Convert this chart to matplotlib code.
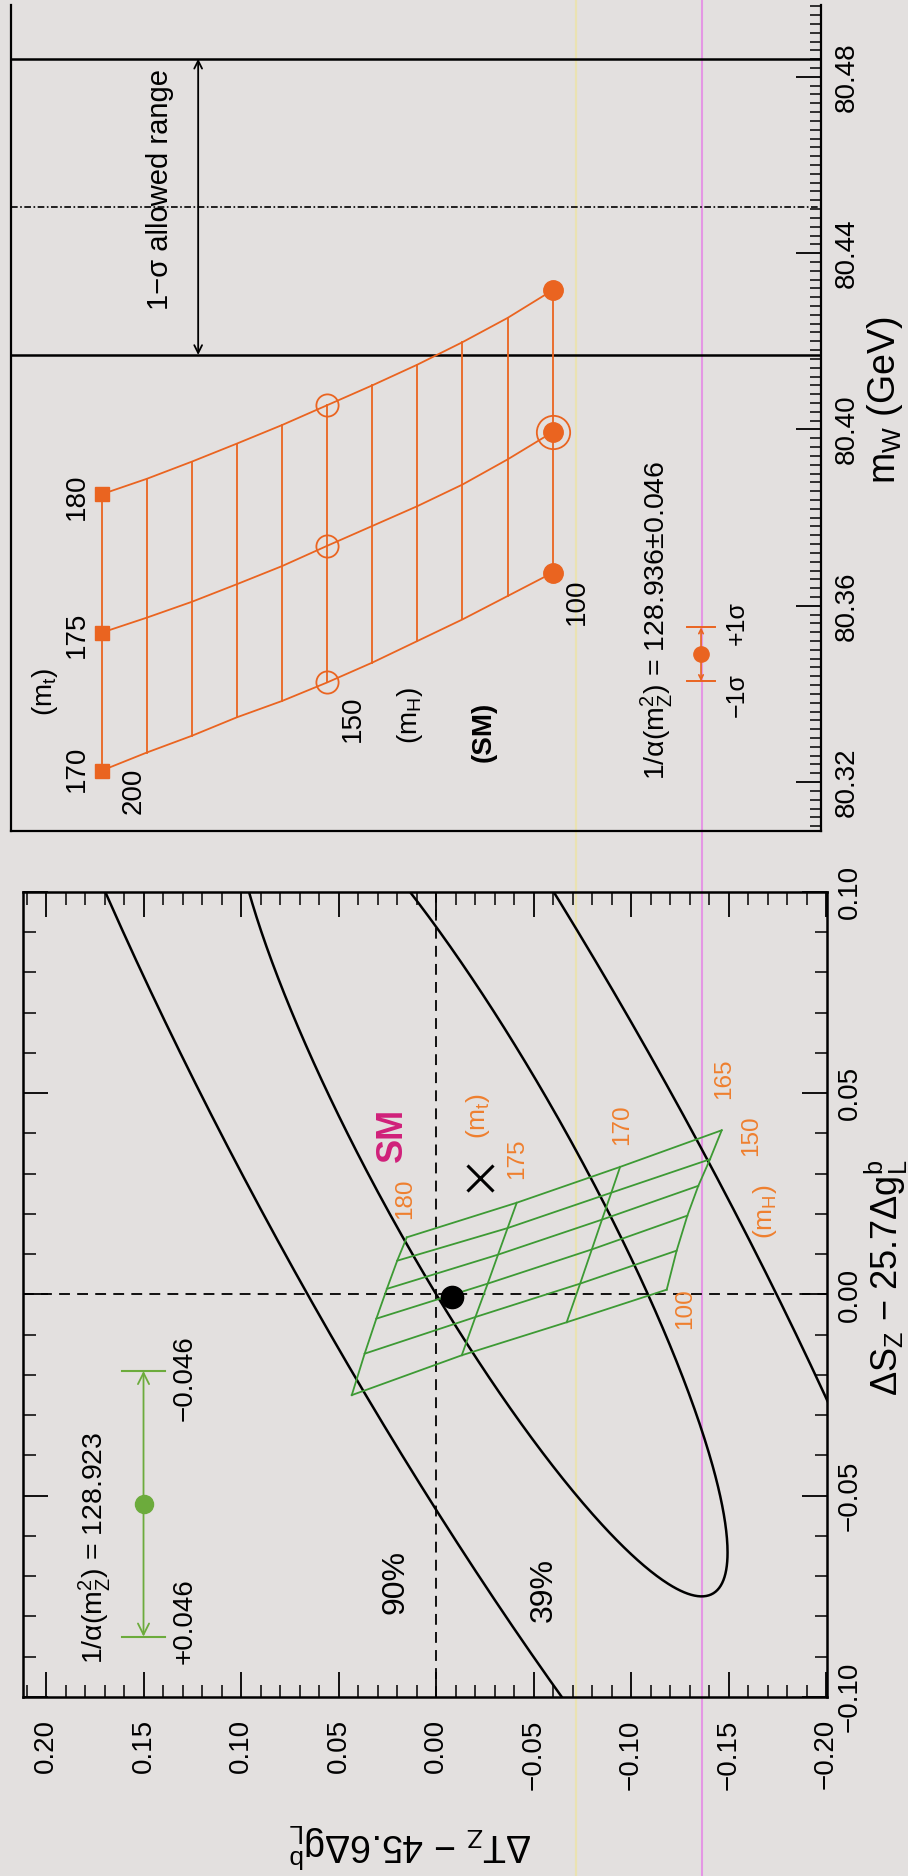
import numpy as np
import matplotlib
matplotlib.use("Agg")
import matplotlib.pyplot as plt
from matplotlib.lines import Line2D
from matplotlib.ticker import MultipleLocator, FuncFormatter

plt.rcParams['font.family'] = ['Liberation Sans', 'DejaVu Sans']
plt.rcParams['mathtext.fontset'] = 'custom'
plt.rcParams['mathtext.rm'] = 'Liberation Sans'
plt.rcParams['mathtext.it'] = 'Liberation Sans'
plt.rcParams['mathtext.bf'] = 'Liberation Sans:bold'
plt.rcParams['mathtext.default'] = 'regular'

# ---------------- upper panel: SM prediction of m_W ----------------
mH_grid = [200, 190, 180, 170, 160, 150, 140, 130, 120, 110, 100]
mt_values = [170, 175, 180]
mW_mt170 = [80.3226, 80.3267, 80.3305, 80.3347, 80.3384, 80.3426,
            80.3471, 80.3520, 80.3569, 80.3622, 80.3675]
mW_mt175 = [80.3539, 80.3573, 80.3609, 80.3649, 80.3690, 80.3736,
            80.3781, 80.3826, 80.3875, 80.3932, 80.3994]
mW_mt180 = [80.3853, 80.3888, 80.3927, 80.3968, 80.4010, 80.4055,
            80.4100, 80.4147, 80.4198, 80.4253, 80.4316]
mW_exp = 80.4505
mW_exp_err = 0.0336
mW_alpha_center = 80.3490
mW_alpha_err = 0.0061
mW_ticks = [80.32, 80.36, 80.40, 80.44, 80.48]

# ---------------- lower panel: (ΔS_Z, ΔT_Z) plane ----------------
mH_grid2 = [100, 110, 120, 130, 140, 150]
mt_grid2 = [165, 170, 175, 180]
dT_mt165 = [-0.1183, -0.1234, -0.1289, -0.1345, -0.1405, -0.1465]
dS_mt165 = [0.0012, 0.0109, 0.0196, 0.0270, 0.0336, 0.0408]
dT_mt170 = [-0.0670, -0.0739, -0.0799, -0.0851, -0.0899, -0.0944]
dS_mt170 = [-0.0069, 0.0027, 0.0112, 0.0186, 0.0253, 0.0317]
dT_mt175 = [-0.0132, -0.0202, -0.0265, -0.0318, -0.0367, -0.0414]
dS_mt175 = [-0.0151, -0.0056, 0.0027, 0.0099, 0.0165, 0.0228]
dT_mt180 = [0.0432, 0.0366, 0.0306, 0.0252, 0.0199, 0.0150]
dS_mt180 = [-0.0250, -0.0147, -0.0060, 0.0014, 0.0084, 0.0142]

fit_center = (-0.0228, 0.0290)      # (ΔT, ΔS) best fit
fit_sigma = (0.1267, 0.104)
fit_rho = 0.895
cl_chi2 = [1.0, 4.605]              # 39% and 90% CL in two dimensions
ref_point = (-0.0082, -0.0007)
alpha_point = (0.150, -0.052)
alpha_dS = 0.033
dT_ticks = [0.20, 0.15, 0.10, 0.05, 0.00, -0.05, -0.10, -0.15, -0.20]
dS_ticks = [-0.10, -0.05, 0.00, 0.05, 0.10]

BG = '#e3e0df'
ORANGE = '#ea6420'
ORANGE_TXT = '#ef7f2e'
GREEN = '#3d9a34'
GREEN_BAR = '#6cab3c'
MAGENTA = '#d0207a'

W, H = 908, 1876


def rect(l, t, r, b):
    return [l / W, 1 - b / H, (r - l) / W, (b - t) / H]


def fmt(v, _=None):
    s = f"{v:.2f}"
    if s == "-0.00":
        s = "0.00"
    return s.replace('-', '\u2212')


fig = plt.figure(figsize=(W / 100, H / 100), dpi=100, facecolor=BG)

# faint vertical streaks running through the printed page
fig.add_artist(Line2D([576 / W] * 2, [0, 1], color='#ede3a0', lw=1.6,
                      alpha=0.7, transform=fig.transFigure, zorder=0))
fig.add_artist(Line2D([702 / W] * 2, [0, 1], color='#e58ae5', lw=1.5,
                      alpha=0.85, transform=fig.transFigure, zorder=0))

# ======================= upper panel =======================
ax1 = fig.add_axes(rect(11, 5, 821, 831))
ax1.set_facecolor('none')
ax1.set_xlim(220.1, 40.5)
ax1.set_ylim(80.3089, 80.4963)
ax1.spines['top'].set_visible(False)
for sp in ('left', 'bottom', 'right'):
    ax1.spines[sp].set_linewidth(1.6)
ax1.set_xticks([])
ax1.yaxis.tick_right()
ax1.set_yticks(mW_ticks)
ax1.yaxis.set_major_formatter(FuncFormatter(fmt))
ax1.yaxis.set_minor_locator(MultipleLocator(0.002))
ax1.tick_params(axis='y', which='major', direction='in', length=18, width=1.3,
                labelsize=20, labelrotation=90, pad=9)
ax1.tick_params(axis='y', which='minor', direction='in', length=8, width=1.1)
for lbl in ax1.get_yticklabels():
    lbl.set_va('center')

mW_table = {170: mW_mt170, 175: mW_mt175, 180: mW_mt180}
for mt in mt_values:
    ax1.plot(mH_grid, mW_table[mt], color=ORANGE, lw=1.3, zorder=3)
for j, mh in enumerate(mH_grid):
    ax1.plot([mh] * len(mt_values), [mW_table[mt][j] for mt in mt_values],
             color=ORANGE, lw=1.3, zorder=3)

i200, i150, i100 = mH_grid.index(200), mH_grid.index(150), mH_grid.index(100)
for mt in mt_values:
    ax1.plot(200, mW_table[mt][i200], 's', color=ORANGE, ms=10.5, zorder=4)
    ax1.plot(150, mW_table[mt][i150], 'o', mfc='none', mec=ORANGE, mew=1.3,
             ms=16, zorder=4)
    ax1.plot(100, mW_table[mt][i100], 'o', color=ORANGE, ms=14, zorder=4)
ax1.plot(100, mW_table[175][i100], 'o', mfc='none', mec=ORANGE, mew=1.3,
         ms=24, zorder=4)

# measured m_W band
ax1.axhline(mW_exp + mW_exp_err, color='black', lw=1.8, zorder=2)
ax1.axhline(mW_exp - mW_exp_err, color='black', lw=1.8, zorder=2)
ax1.axhline(mW_exp, color='black', lw=1.2, ls=(0, (4, 1.5, 1, 1.5)), zorder=2)
ax1.annotate('', xy=(178.6, mW_exp + mW_exp_err), xytext=(178.6, mW_exp - mW_exp_err),
             arrowprops=dict(arrowstyle='<->', color='black', lw=1.3,
                             shrinkA=0, shrinkB=0, mutation_scale=14))
ax1.text(187.0, 80.4544, '1\u2212\u03c3 allowed range', rotation=90,
         ha='center', va='center', fontsize=21)

# error from 1/alpha(mZ^2)
xb = 67.1
for sgn in (1, -1):
    ax1.annotate('', xy=(xb, mW_alpha_center + sgn * mW_alpha_err),
                 xytext=(xb, mW_alpha_center),
                 arrowprops=dict(arrowstyle='->', color=ORANGE, lw=1.2,
                                 shrinkA=0, shrinkB=0, mutation_scale=8))
    ax1.plot([xb + 3.2, xb - 3.2], [mW_alpha_center + sgn * mW_alpha_err] * 2,
             color=ORANGE, lw=1.4)
ax1.plot(xb, mW_alpha_center, 'o', color=ORANGE, ms=11, zorder=4)
ax1.text(59.1, 80.3560, '+1\u03c3', rotation=90, ha='center', va='center', fontsize=18)
ax1.text(59.1, 80.3397, '\u22121\u03c3', rotation=90, ha='center', va='center', fontsize=18)
ax1.text(77.0, 80.3567, '1/\u03b1(m$_Z^2$) = 128.936\u00b10.046', rotation=90,
         ha='center', va='center', fontsize=20.5)

# grid labels
for mt, val in zip(mt_values, [80.3230, 80.3535, 80.3848]):
    ax1.text(205.5, val, str(mt), rotation=90, ha='center', va='center', fontsize=20)
ax1.text(212.6, 80.3404, '(m$_t$)', rotation=90, ha='center', va='center', fontsize=20)
ax1.text(193.0, 80.3180, '200', rotation=90, ha='center', va='center', fontsize=20)
ax1.text(144.3, 80.3343, '150', rotation=90, ha='center', va='center', fontsize=20)
ax1.text(131.6, 80.3350, '(m$_H$)', rotation=90, ha='center', va='center', fontsize=20)
ax1.text(94.6, 80.3608, '100', rotation=90, ha='center', va='center', fontsize=20)
ax1.text(115.2, 80.3313, '(SM)', rotation=90, ha='center', va='center', fontsize=20,
         fontweight='bold')

fig.text(885 / W, 1 - 400 / H, 'm$_W$ (GeV)', rotation=90, ha='center', va='center',
         fontsize=27)

# ======================= lower panel =======================
ax2 = fig.add_axes(rect(23, 892, 827, 1697))
ax2.set_facecolor('none')
ax2.set_xlim(0.2118, -0.2005)
ax2.set_ylim(-0.1, 0.1)
for sp in ax2.spines.values():
    sp.set_linewidth(1.8)
ax2.set_xticks(dT_ticks)
ax2.set_yticks(dS_ticks)
ax2.xaxis.set_major_formatter(FuncFormatter(fmt))
ax2.yaxis.set_major_formatter(FuncFormatter(fmt))
ax2.xaxis.set_minor_locator(MultipleLocator(0.01))
ax2.yaxis.set_minor_locator(MultipleLocator(0.01))
ax2.yaxis.tick_right()
ax2.tick_params(which='both', direction='in', top=True, bottom=True, left=True,
                right=True, labelleft=False, labelright=True, labeltop=False,
                labelbottom=True)
ax2.tick_params(which='major', length=18, width=1.3, labelsize=20, labelrotation=90)
ax2.tick_params(which='minor', length=9, width=1.1)
ax2.tick_params(axis='x', which='major', pad=16)
ax2.tick_params(axis='y', which='major', pad=7)
for lbl in ax2.get_yticklabels():
    lbl.set_va('center')

# confidence contours
mT, mS = fit_center
sT, sS = fit_sigma
th = np.linspace(0, 2 * np.pi, 721)
for c in cl_chi2:
    r = np.sqrt(c)
    tt = mT + sT * r * np.cos(th)
    ss = mS + sS * r * (fit_rho * np.cos(th) + np.sqrt(1 - fit_rho ** 2) * np.sin(th))
    ax2.plot(tt, ss, color='black', lw=1.8, zorder=3)

ax2.axvline(0, color='black', lw=1.3, ls=(0, (6, 4)), zorder=2)
ax2.axhline(0, color='black', lw=1.3, ls=(0, (6, 4)), zorder=2)

# SM grid
dT_table = {165: dT_mt165, 170: dT_mt170, 175: dT_mt175, 180: dT_mt180}
dS_table = {165: dS_mt165, 170: dS_mt170, 175: dS_mt175, 180: dS_mt180}
for mt in mt_grid2:
    ax2.plot(dT_table[mt], dS_table[mt], color=GREEN, lw=1.3, zorder=4)
for j in range(len(mH_grid2)):
    ax2.plot([dT_table[mt][j] for mt in mt_grid2], [dS_table[mt][j] for mt in mt_grid2],
             color=GREEN, lw=1.3, zorder=4)

ax2.plot(*ref_point, 'o', color='black', ms=16, zorder=6)
ax2.plot(*fit_center, 'x', color='black', ms=19, mew=2.2, zorder=6)

# shift from 1/alpha(mZ^2)
aT, aS = alpha_point
for sgn in (1, -1):
    ax2.annotate('', xy=(aT, aS + sgn * alpha_dS), xytext=(aT, aS),
                 arrowprops=dict(arrowstyle='->', color=GREEN_BAR, lw=1.3,
                                 shrinkA=0, shrinkB=0, mutation_scale=20))
    ax2.plot([aT + 0.011, aT - 0.011], [aS + sgn * alpha_dS] * 2, color=GREEN_BAR, lw=1.5)
ax2.plot(aT, aS, 'o', color=GREEN_BAR, ms=13, zorder=5)
ax2.text(0.1749, -0.0629, '1/\u03b1(m$_Z^2$) = 128.923', rotation=90, ha='center',
         va='center', fontsize=20.5)
ax2.text(0.1287, -0.0812, '+0.046', rotation=90, ha='center', va='center', fontsize=20)
ax2.text(0.1287, -0.0208, '\u22120.046', rotation=90, ha='center', va='center', fontsize=20)

ax2.text(0.0210, -0.0715, '90%', rotation=90, ha='center', va='center', fontsize=23)
ax2.text(-0.0554, -0.0733, '39%', rotation=90, ha='center', va='center', fontsize=23)
ax2.text(0.0226, 0.0396, 'SM', rotation=90, ha='center', va='center', fontsize=26,
         fontweight='bold', color=MAGENTA)

for mt, (tx, sy) in zip([180, 175, 170, 165],
                        [(0.0159, 0.0238), (-0.0415, 0.0337), (-0.0954, 0.0421),
                         (-0.1475, 0.0535)]):
    ax2.text(tx, sy, str(mt), rotation=90, ha='center', va='center', fontsize=17.5,
             color=ORANGE_TXT)
ax2.text(-0.0215, 0.0443, '(m$_t$)', rotation=90, ha='center', va='center', fontsize=19,
         color=ORANGE_TXT)
ax2.text(-0.1615, 0.0395, '150', rotation=90, ha='center', va='center', fontsize=17.5,
         color=ORANGE_TXT)
ax2.text(-0.1277, -0.0035, '100', rotation=90, ha='center', va='center', fontsize=17.5,
         color=ORANGE_TXT)
ax2.text(-0.1685, 0.0205, '(m$_H$)', rotation=90, ha='center', va='center', fontsize=19,
         color=ORANGE_TXT)

fig.text(886 / W, 1 - 1278 / H, '$\\Delta S_Z$ \u2212 25.7$\\Delta g_L^b$', rotation=90,
         ha='center', va='center', fontsize=26)
fig.text(410 / W, 1 - 1845 / H, '$\\Delta T_Z$ \u2212 45.6$\\Delta g_L^b$', rotation=180,
         ha='center', va='center', fontsize=27)

fig.savefig('out.png', dpi=100, facecolor=BG)
